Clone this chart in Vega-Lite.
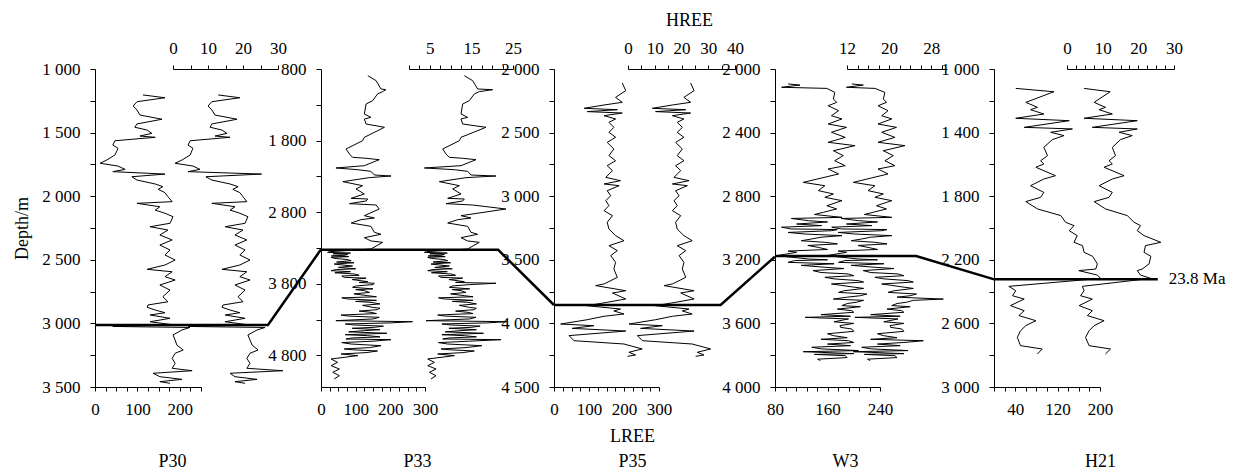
{
"$schema": "https://vega.github.io/schema/vega-lite/v6.json",
"width": 1233, "height": 318,
"autosize": {"type": "none"},
"padding": {"left": 0, "right": 0, "top": 69, "bottom": 86},
"background": "white",
"config": {
  "view": {"stroke": null},
  "axis": {"grid": false, "domainColor": "black", "domainWidth": 1, "tickColor": "black", "tickWidth": 1, "tickSize": 4,
    "labelColor": "black", "labelFont": "Liberation Serif", "labelFontSize": 17, "labelFlush": false, "labelOverlap": false, "labelBound": false,
    "titleColor": "black", "titleFont": "Liberation Serif", "titleFontSize": 18, "titleFontWeight": "normal"},
  "axisY": {"tickSize": 5, "labelPadding": 10, "titlePadding": 10},
  "axisTop": {"labelPadding": 8},
  "axisBottom": {"labelPadding": 10}
},
"datasets": {
"logs": [
{"well":"P30","depth":1204,"LREE":113,"HREE":12.9},{"well":"P30","depth":1226,"LREE":165,"HREE":19.1},{"well":"P30","depth":1257,"LREE":99,"HREE":11.1},{"well":"P30","depth":1291,"LREE":90,"HREE":10},{"well":"P30","depth":1322,"LREE":99,"HREE":11.1},{"well":"P30","depth":1362,"LREE":106,"HREE":12},{"well":"P30","depth":1395,"LREE":158,"HREE":18.3},{"well":"P30","depth":1432,"LREE":99,"HREE":11.1},{"well":"P30","depth":1458,"LREE":94,"HREE":10.6},{"well":"P30","depth":1480,"LREE":123,"HREE":14},{"well":"P30","depth":1506,"LREE":134,"HREE":15.4},{"well":"P30","depth":1527,"LREE":106,"HREE":12},{"well":"P30","depth":1537,"LREE":142,"HREE":16.3},{"well":"P30","depth":1564,"LREE":47,"HREE":4.9},{"well":"P30","depth":1598,"LREE":42,"HREE":4.3},{"well":"P30","depth":1623,"LREE":54,"HREE":5.7},{"well":"P30","depth":1642,"LREE":52,"HREE":5.4},{"well":"P30","depth":1676,"LREE":47,"HREE":4.9},{"well":"P30","depth":1715,"LREE":28,"HREE":2.6},{"well":"P30","depth":1741,"LREE":12,"HREE":0.6},{"well":"P30","depth":1763,"LREE":54,"HREE":5.7},{"well":"P30","depth":1789,"LREE":71,"HREE":7.7},{"well":"P30","depth":1807,"LREE":42,"HREE":4.3},{"well":"P30","depth":1826,"LREE":165,"HREE":25.3},{"well":"P30","depth":1847,"LREE":87,"HREE":9.4},{"well":"P30","depth":1873,"LREE":99,"HREE":11.1},{"well":"P30","depth":1904,"LREE":142,"HREE":16.3},{"well":"P30","depth":1925,"LREE":160,"HREE":18.6},{"well":"P30","depth":1946,"LREE":149,"HREE":17.1},{"well":"P30","depth":1972,"LREE":165,"HREE":19.1},{"well":"P30","depth":2004,"LREE":172,"HREE":20},{"well":"P30","depth":2043,"LREE":182,"HREE":21.1},{"well":"P30","depth":2056,"LREE":99,"HREE":11.1},{"well":"P30","depth":2083,"LREE":153,"HREE":17.7},{"well":"P30","depth":2109,"LREE":142,"HREE":16.3},{"well":"P30","depth":2134,"LREE":165,"HREE":19.1},{"well":"P30","depth":2161,"LREE":184,"HREE":21.4},{"well":"P30","depth":2213,"LREE":177,"HREE":20.6},{"well":"P30","depth":2240,"LREE":130,"HREE":14.9},{"well":"P30","depth":2266,"LREE":172,"HREE":20},{"well":"P30","depth":2305,"LREE":153,"HREE":17.7},{"well":"P30","depth":2344,"LREE":182,"HREE":21.1},{"well":"P30","depth":2384,"LREE":153,"HREE":17.7},{"well":"P30","depth":2423,"LREE":177,"HREE":20.6},{"well":"P30","depth":2462,"LREE":165,"HREE":19.1},{"well":"P30","depth":2502,"LREE":189,"HREE":22},{"well":"P30","depth":2541,"LREE":165,"HREE":19.1},{"well":"P30","depth":2575,"LREE":123,"HREE":14},{"well":"P30","depth":2594,"LREE":182,"HREE":21.1},{"well":"P30","depth":2633,"LREE":165,"HREE":19.1},{"well":"P30","depth":2659,"LREE":189,"HREE":22},{"well":"P30","depth":2698,"LREE":153,"HREE":17.7},{"well":"P30","depth":2738,"LREE":177,"HREE":20.6},{"well":"P30","depth":2790,"LREE":160,"HREE":18.6},{"well":"P30","depth":2830,"LREE":172,"HREE":20},{"well":"P30","depth":2855,"LREE":125,"HREE":14.3},{"well":"P30","depth":2873,"LREE":123,"HREE":14},{"well":"P30","depth":2895,"LREE":142,"HREE":16.3},{"well":"P30","depth":2916,"LREE":165,"HREE":19.1},{"well":"P30","depth":2934,"LREE":130,"HREE":14.9},{"well":"P30","depth":2960,"LREE":177,"HREE":20.6},{"well":"P30","depth":2987,"LREE":130,"HREE":14.9},{"well":"P30","depth":3013,"LREE":189,"HREE":22},{"well":"P30","depth":3024,"LREE":42,"HREE":4.3},{"well":"P30","depth":3032,"LREE":224,"HREE":26.3},{"well":"P30","depth":3052,"LREE":205,"HREE":24},{"well":"P30","depth":3091,"LREE":184,"HREE":21.4},{"well":"P30","depth":3131,"LREE":189,"HREE":22},{"well":"P30","depth":3170,"LREE":193,"HREE":22.6},{"well":"P30","depth":3209,"LREE":208,"HREE":24.3},{"well":"P30","depth":3235,"LREE":189,"HREE":22},{"well":"P30","depth":3275,"LREE":182,"HREE":21.1},{"well":"P30","depth":3314,"LREE":189,"HREE":22},{"well":"P30","depth":3353,"LREE":182,"HREE":21.1},{"well":"P30","depth":3372,"LREE":229,"HREE":31.4},{"well":"P30","depth":3392,"LREE":137,"HREE":16.3},{"well":"P30","depth":3419,"LREE":153,"HREE":17.7},{"well":"P30","depth":3440,"LREE":205,"HREE":24},{"well":"P30","depth":3458,"LREE":153,"HREE":17.7},{"well":"P30","depth":3471,"LREE":177,"HREE":20.6},
{"well":"P33","depth":893,"LREE":135,"HREE":13.3},{"well":"P33","depth":963,"LREE":159,"HREE":15.3},{"well":"P33","depth":1079,"LREE":173,"HREE":16.5},{"well":"P33","depth":1089,"LREE":187,"HREE":20.1},{"well":"P33","depth":1116,"LREE":178,"HREE":16.9},{"well":"P33","depth":1149,"LREE":163,"HREE":15.7},{"well":"P33","depth":1242,"LREE":149,"HREE":14.5},{"well":"P33","depth":1289,"LREE":130,"HREE":12.9},{"well":"P33","depth":1428,"LREE":125,"HREE":12.5},{"well":"P33","depth":1475,"LREE":144,"HREE":14.1},{"well":"P33","depth":1498,"LREE":125,"HREE":12.5},{"well":"P33","depth":1568,"LREE":130,"HREE":12.9},{"well":"P33","depth":1614,"LREE":183,"HREE":18.5},{"well":"P33","depth":1754,"LREE":125,"HREE":12.5},{"well":"P33","depth":1801,"LREE":120,"HREE":12.1},{"well":"P33","depth":1917,"LREE":72,"HREE":8.1},{"well":"P33","depth":1987,"LREE":82,"HREE":8.9},{"well":"P33","depth":2033,"LREE":91,"HREE":9.7},{"well":"P33","depth":2047,"LREE":130,"HREE":12.9},{"well":"P33","depth":2066,"LREE":168,"HREE":16.1},{"well":"P33","depth":2150,"LREE":125,"HREE":12.5},{"well":"P33","depth":2182,"LREE":43,"HREE":3.7},{"well":"P33","depth":2206,"LREE":106,"HREE":10.9},{"well":"P33","depth":2229,"LREE":144,"HREE":14.1},{"well":"P33","depth":2280,"LREE":154,"HREE":14.9},{"well":"P33","depth":2294,"LREE":202,"HREE":20.9},{"well":"P33","depth":2317,"LREE":139,"HREE":13.7},{"well":"P33","depth":2373,"LREE":63,"HREE":7.3},{"well":"P33","depth":2429,"LREE":120,"HREE":12.1},{"well":"P33","depth":2475,"LREE":101,"HREE":10.5},{"well":"P33","depth":2545,"LREE":125,"HREE":12.5},{"well":"P33","depth":2606,"LREE":87,"HREE":9.3},{"well":"P33","depth":2615,"LREE":135,"HREE":13.3},{"well":"P33","depth":2643,"LREE":130,"HREE":12.9},{"well":"P33","depth":2680,"LREE":82,"HREE":8.9},{"well":"P33","depth":2699,"LREE":159,"HREE":15.3},{"well":"P33","depth":2755,"LREE":168,"HREE":23.3},{"well":"P33","depth":2848,"LREE":125,"HREE":12.5},{"well":"P33","depth":2880,"LREE":154,"HREE":14.9},{"well":"P33","depth":2904,"LREE":115,"HREE":11.7},{"well":"P33","depth":2950,"LREE":87,"HREE":9.3},{"well":"P33","depth":2997,"LREE":144,"HREE":14.1},{"well":"P33","depth":3080,"LREE":154,"HREE":14.9},{"well":"P33","depth":3108,"LREE":173,"HREE":16.5},{"well":"P33","depth":3155,"LREE":125,"HREE":12.5},{"well":"P33","depth":3201,"LREE":144,"HREE":14.1},{"well":"P33","depth":3220,"LREE":178,"HREE":16.9},{"well":"P33","depth":3313,"LREE":144,"HREE":14.1},
{"well":"P33","depth":3340,"LREE":60,"HREE":7.1},{"well":"P33","depth":3350,"LREE":25,"HREE":4.2},{"well":"P33","depth":3360,"LREE":19,"HREE":3.7},{"well":"P33","depth":3370,"LREE":85,"HREE":9.2},{"well":"P33","depth":3380,"LREE":35,"HREE":5},{"well":"P33","depth":3388,"LREE":77,"HREE":8.5},{"well":"P33","depth":3400,"LREE":70,"HREE":7.9},{"well":"P33","depth":3410,"LREE":30,"HREE":4.6},{"well":"P33","depth":3420,"LREE":80,"HREE":8.7},{"well":"P33","depth":3430,"LREE":29,"HREE":4.5},{"well":"P33","depth":3445,"LREE":40,"HREE":5.4},{"well":"P33","depth":3460,"LREE":75,"HREE":8.3},{"well":"P33","depth":3476,"LREE":87,"HREE":9.3},{"well":"P33","depth":3495,"LREE":45,"HREE":5.8},{"well":"P33","depth":3505,"LREE":95,"HREE":10},{"well":"P33","depth":3523,"LREE":38,"HREE":5.3},{"well":"P33","depth":3535,"LREE":60,"HREE":7.1},{"well":"P33","depth":3551,"LREE":91,"HREE":9.7},{"well":"P33","depth":3570,"LREE":50,"HREE":6.2},{"well":"P33","depth":3590,"LREE":100,"HREE":10.4},{"well":"P33","depth":3600,"LREE":45,"HREE":5.8},{"well":"P33","depth":3616,"LREE":29,"HREE":4.5},{"well":"P33","depth":3630,"LREE":85,"HREE":9.2},{"well":"P33","depth":3645,"LREE":40,"HREE":5.4},{"well":"P33","depth":3662,"LREE":96,"HREE":10.1},{"well":"P33","depth":3680,"LREE":110,"HREE":11.2},{"well":"P33","depth":3690,"LREE":60,"HREE":7.1},{"well":"P33","depth":3709,"LREE":67,"HREE":7.7},{"well":"P33","depth":3720,"LREE":130,"HREE":12.9},{"well":"P33","depth":3740,"LREE":90,"HREE":9.6},{"well":"P33","depth":3769,"LREE":135,"HREE":13.3},{"well":"P33","depth":3780,"LREE":110,"HREE":11.2},{"well":"P33","depth":3792,"LREE":154,"HREE":20.9},{"well":"P33","depth":3810,"LREE":150,"HREE":14.6},{"well":"P33","depth":3830,"LREE":100,"HREE":10.4},{"well":"P33","depth":3848,"LREE":91,"HREE":9.7},{"well":"P33","depth":3870,"LREE":150,"HREE":14.6},{"well":"P33","depth":3880,"LREE":100,"HREE":10.4},{"well":"P33","depth":3895,"LREE":125,"HREE":12.5},{"well":"P33","depth":3920,"LREE":140,"HREE":13.7},{"well":"P33","depth":3940,"LREE":95,"HREE":10},{"well":"P33","depth":3965,"LREE":135,"HREE":13.3},{"well":"P33","depth":3980,"LREE":160,"HREE":15.4},{"well":"P33","depth":3995,"LREE":60,"HREE":7.1},{"well":"P33","depth":4011,"LREE":77,"HREE":8.5},{"well":"P33","depth":4030,"LREE":160,"HREE":15.4},{"well":"P33","depth":4045,"LREE":100,"HREE":10.4},{"well":"P33","depth":4058,"LREE":144,"HREE":14.1},{"well":"P33","depth":4080,"LREE":170,"HREE":16.2},{"well":"P33","depth":4100,"LREE":120,"HREE":12.1},{"well":"P33","depth":4128,"LREE":149,"HREE":14.5},{"well":"P33","depth":4140,"LREE":170,"HREE":16.2},{"well":"P33","depth":4160,"LREE":163,"HREE":15.7},{"well":"P33","depth":4180,"LREE":110,"HREE":11.2},{"well":"P33","depth":4197,"LREE":144,"HREE":14.1},{"well":"P33","depth":4215,"LREE":160,"HREE":15.4},{"well":"P33","depth":4235,"LREE":58,"HREE":6.9},{"well":"P33","depth":4250,"LREE":80,"HREE":8.7},{"well":"P33","depth":4267,"LREE":168,"HREE":16.1},{"well":"P33","depth":4290,"LREE":150,"HREE":14.6},{"well":"P33","depth":4314,"LREE":43,"HREE":4.1},{"well":"P33","depth":4328,"LREE":264,"HREE":23.5},{"well":"P33","depth":4345,"LREE":200,"HREE":18.7},{"well":"P33","depth":4360,"LREE":70,"HREE":7.9},{"well":"P33","depth":4374,"LREE":96,"HREE":10.1},{"well":"P33","depth":4390,"LREE":180,"HREE":17.1},{"well":"P33","depth":4407,"LREE":154,"HREE":14.9},{"well":"P33","depth":4420,"LREE":90,"HREE":9.6},{"well":"P33","depth":4440,"LREE":170,"HREE":16.2},{"well":"P33","depth":4453,"LREE":125,"HREE":12.5},{"well":"P33","depth":4470,"LREE":80,"HREE":8.7},{"well":"P33","depth":4490,"LREE":190,"HREE":17.9},{"well":"P33","depth":4510,"LREE":70,"HREE":7.9},{"well":"P33","depth":4523,"LREE":135,"HREE":13.3},{"well":"P33","depth":4540,"LREE":170,"HREE":16.2},{"well":"P33","depth":4555,"LREE":90,"HREE":9.6},{"well":"P33","depth":4570,"LREE":72,"HREE":8.1},{"well":"P33","depth":4579,"LREE":202,"HREE":22.1},{"well":"P33","depth":4600,"LREE":150,"HREE":14.6},{"well":"P33","depth":4620,"LREE":60,"HREE":7.1},{"well":"P33","depth":4640,"LREE":87,"HREE":9.3},{"well":"P33","depth":4663,"LREE":173,"HREE":17.5},{"well":"P33","depth":4690,"LREE":140,"HREE":13.7},{"well":"P33","depth":4709,"LREE":67,"HREE":7.7},{"well":"P33","depth":4720,"LREE":90,"HREE":9.6},{"well":"P33","depth":4737,"LREE":163,"HREE":15.7},{"well":"P33","depth":4760,"LREE":130,"HREE":12.9},{"well":"P33","depth":4779,"LREE":58,"HREE":6.9},{"well":"P33","depth":4802,"LREE":106,"HREE":10.9},{"well":"P33","depth":4849,"LREE":29,"HREE":4.5},{"well":"P33","depth":4896,"LREE":48,"HREE":6.1},{"well":"P33","depth":4942,"LREE":29,"HREE":4.5},{"well":"P33","depth":4989,"LREE":53,"HREE":6.5},{"well":"P33","depth":5035,"LREE":34,"HREE":4.9},{"well":"P33","depth":5082,"LREE":53,"HREE":6.5},{"well":"P33","depth":5128,"LREE":38,"HREE":5.3},
{"well":"P35","depth":2110,"LREE":195,"HREE":23.4},{"well":"P35","depth":2170,"LREE":205,"HREE":24.7},{"well":"P35","depth":2223,"LREE":176,"HREE":20.9},{"well":"P35","depth":2262,"LREE":195,"HREE":23.4},{"well":"P35","depth":2283,"LREE":143,"HREE":16.6},{"well":"P35","depth":2309,"LREE":86,"HREE":9.1},{"well":"P35","depth":2320,"LREE":181,"HREE":21.6},{"well":"P35","depth":2335,"LREE":95,"HREE":10.3},{"well":"P35","depth":2346,"LREE":195,"HREE":23.4},{"well":"P35","depth":2367,"LREE":143,"HREE":16.6},{"well":"P35","depth":2393,"LREE":176,"HREE":20.9},{"well":"P35","depth":2419,"LREE":157,"HREE":18.4},{"well":"P35","depth":2459,"LREE":171,"HREE":20.3},{"well":"P35","depth":2498,"LREE":157,"HREE":18.4},{"well":"P35","depth":2537,"LREE":176,"HREE":20.9},{"well":"P35","depth":2577,"LREE":152,"HREE":17.8},{"well":"P35","depth":2629,"LREE":171,"HREE":20.3},{"well":"P35","depth":2681,"LREE":157,"HREE":18.4},{"well":"P35","depth":2721,"LREE":176,"HREE":20.9},{"well":"P35","depth":2760,"LREE":152,"HREE":17.8},{"well":"P35","depth":2799,"LREE":167,"HREE":19.7},{"well":"P35","depth":2852,"LREE":148,"HREE":17.2},{"well":"P35","depth":2878,"LREE":190,"HREE":22.8},{"well":"P35","depth":2904,"LREE":143,"HREE":16.6},{"well":"P35","depth":2917,"LREE":186,"HREE":22.2},{"well":"P35","depth":2957,"LREE":152,"HREE":17.8},{"well":"P35","depth":2996,"LREE":162,"HREE":19.1},{"well":"P35","depth":3035,"LREE":148,"HREE":17.2},{"well":"P35","depth":3074,"LREE":157,"HREE":18.4},{"well":"P35","depth":3114,"LREE":143,"HREE":16.6},{"well":"P35","depth":3153,"LREE":167,"HREE":19.7},{"well":"P35","depth":3205,"LREE":152,"HREE":17.8},{"well":"P35","depth":3258,"LREE":157,"HREE":18.4},{"well":"P35","depth":3310,"LREE":176,"HREE":20.9},{"well":"P35","depth":3350,"LREE":200,"HREE":24.0},{"well":"P35","depth":3389,"LREE":157,"HREE":18.4},{"well":"P35","depth":3428,"LREE":181,"HREE":21.6},{"well":"P35","depth":3467,"LREE":162,"HREE":19.1},{"well":"P35","depth":3520,"LREE":176,"HREE":20.9},{"well":"P35","depth":3572,"LREE":171,"HREE":20.3},{"well":"P35","depth":3638,"LREE":181,"HREE":21.6},{"well":"P35","depth":3690,"LREE":143,"HREE":16.6},{"well":"P35","depth":3703,"LREE":119,"HREE":13.5},{"well":"P35","depth":3743,"LREE":205,"HREE":24.7},{"well":"P35","depth":3761,"LREE":167,"HREE":19.7},{"well":"P35","depth":3808,"LREE":205,"HREE":24.7},{"well":"P35","depth":3834,"LREE":152,"HREE":17.8},{"well":"P35","depth":3861,"LREE":95,"HREE":10.3},{"well":"P35","depth":3887,"LREE":190,"HREE":22.8},{"well":"P35","depth":3902,"LREE":171,"HREE":20.3},{"well":"P35","depth":3926,"LREE":200,"HREE":24.0},{"well":"P35","depth":3944,"LREE":143,"HREE":16.6},{"well":"P35","depth":3971,"LREE":95,"HREE":10.3},{"well":"P35","depth":4005,"LREE":19,"HREE":0.4},{"well":"P35","depth":4018,"LREE":114,"HREE":12.8},{"well":"P35","depth":4039,"LREE":52,"HREE":4.7},{"well":"P35","depth":4060,"LREE":205,"HREE":24.7},{"well":"P35","depth":4096,"LREE":43,"HREE":3.5},{"well":"P35","depth":4136,"LREE":57,"HREE":5.4},{"well":"P35","depth":4162,"LREE":200,"HREE":24.0},{"well":"P35","depth":4201,"LREE":252,"HREE":30.9},{"well":"P35","depth":4227,"LREE":214,"HREE":25.9},{"well":"P35","depth":4248,"LREE":233,"HREE":28.4},{"well":"P35","depth":4259,"LREE":210,"HREE":25.3},
{"well":"W3","depth":2094,"LREE":100,"HREE":12.9},{"well":"W3","depth":2101,"LREE":118,"HREE":15.1},{"well":"W3","depth":2115,"LREE":90,"HREE":11.9},{"well":"W3","depth":2122,"LREE":159,"HREE":17.3},{"well":"W3","depth":2147,"LREE":171,"HREE":19.2},{"well":"W3","depth":2189,"LREE":169,"HREE":18.9},{"well":"W3","depth":2210,"LREE":174,"HREE":19.5},{"well":"W3","depth":2231,"LREE":161,"HREE":17.9},{"well":"W3","depth":2262,"LREE":177,"HREE":19.8},{"well":"W3","depth":2294,"LREE":166,"HREE":18.6},{"well":"W3","depth":2314,"LREE":182,"HREE":20.5},{"well":"W3","depth":2346,"LREE":161,"HREE":17.9},{"well":"W3","depth":2367,"LREE":189,"HREE":21.4},{"well":"W3","depth":2398,"LREE":166,"HREE":18.6},{"well":"W3","depth":2430,"LREE":187,"HREE":21.1},{"well":"W3","depth":2461,"LREE":161,"HREE":17.9},{"well":"W3","depth":2482,"LREE":202,"HREE":23.0},{"well":"W3","depth":2514,"LREE":169,"HREE":18.9},{"well":"W3","depth":2545,"LREE":184,"HREE":20.8},{"well":"W3","depth":2577,"LREE":171,"HREE":19.2},{"well":"W3","depth":2608,"LREE":187,"HREE":21.1},{"well":"W3","depth":2629,"LREE":161,"HREE":17.9},{"well":"W3","depth":2660,"LREE":177,"HREE":19.8},{"well":"W3","depth":2713,"LREE":123,"HREE":13.2},{"well":"W3","depth":2734,"LREE":156,"HREE":17.3},{"well":"W3","depth":2765,"LREE":146,"HREE":16.0},{"well":"W3","depth":2786,"LREE":169,"HREE":18.9},{"well":"W3","depth":2807,"LREE":156,"HREE":17.3},{"well":"W3","depth":2828,"LREE":182,"HREE":20.5},{"well":"W3","depth":2860,"LREE":159,"HREE":17.6},{"well":"W3","depth":2880,"LREE":174,"HREE":19.5},{"well":"W3","depth":2901,"LREE":154,"HREE":17.0},{"well":"W3","depth":2915,"LREE":140,"HREE":15.3},{"well":"W3","depth":2933,"LREE":182,"HREE":20.5},{"well":"W3","depth":2940,"LREE":105,"HREE":10.9},{"well":"W3","depth":2954,"LREE":131,"HREE":14.2},{"well":"W3","depth":2962,"LREE":160,"HREE":17.8},{"well":"W3","depth":2975,"LREE":113,"HREE":11.9},{"well":"W3","depth":2985,"LREE":151,"HREE":16.7},{"well":"W3","depth":2995,"LREE":90,"HREE":9.1},{"well":"W3","depth":3006,"LREE":105,"HREE":11.0},{"well":"W3","depth":3010,"LREE":175,"HREE":19.6},{"well":"W3","depth":3017,"LREE":166,"HREE":18.6},{"well":"W3","depth":3028,"LREE":100,"HREE":10.3},{"well":"W3","depth":3038,"LREE":126,"HREE":13.5},{"well":"W3","depth":3048,"LREE":182,"HREE":20.5},{"well":"W3","depth":3058,"LREE":150,"HREE":16.5},{"well":"W3","depth":3069,"LREE":136,"HREE":14.8},{"well":"W3","depth":3080,"LREE":120,"HREE":12.8},{"well":"W3","depth":3090,"LREE":156,"HREE":17.3},{"well":"W3","depth":3100,"LREE":175,"HREE":19.6},{"well":"W3","depth":3110,"LREE":130,"HREE":14.1},{"well":"W3","depth":3122,"LREE":146,"HREE":16.0},{"well":"W3","depth":3135,"LREE":160,"HREE":17.8},{"well":"W3","depth":3145,"LREE":100,"HREE":10.3},{"well":"W3","depth":3153,"LREE":113,"HREE":11.9},{"well":"W3","depth":3174,"LREE":83,"HREE":8.1},{"well":"W3","depth":3195,"LREE":131,"HREE":14.2},{"well":"W3","depth":3200,"LREE":160,"HREE":17.8},{"well":"W3","depth":3205,"LREE":110,"HREE":11.6},{"well":"W3","depth":3216,"LREE":100,"HREE":10.4},{"well":"W3","depth":3225,"LREE":170,"HREE":19},{"well":"W3","depth":3235,"LREE":120,"HREE":12.8},{"well":"W3","depth":3247,"LREE":156,"HREE":17.3},{"well":"W3","depth":3255,"LREE":185,"HREE":20.9},{"well":"W3","depth":3268,"LREE":138,"HREE":15.1},{"well":"W3","depth":3280,"LREE":150,"HREE":16.5},{"well":"W3","depth":3289,"LREE":192,"HREE":21.7},{"well":"W3","depth":3300,"LREE":200,"HREE":22.8},{"well":"W3","depth":3310,"LREE":156,"HREE":17.3},{"well":"W3","depth":3320,"LREE":170,"HREE":19},{"well":"W3","depth":3331,"LREE":207,"HREE":23.6},{"well":"W3","depth":3340,"LREE":215,"HREE":24.6},{"well":"W3","depth":3352,"LREE":166,"HREE":18.6},{"well":"W3","depth":3360,"LREE":180,"HREE":20.3},{"well":"W3","depth":3373,"LREE":202,"HREE":23.0},{"well":"W3","depth":3380,"LREE":215,"HREE":24.6},{"well":"W3","depth":3395,"LREE":185,"HREE":20.9},{"well":"W3","depth":3405,"LREE":177,"HREE":19.8},{"well":"W3","depth":3415,"LREE":220,"HREE":25.2},{"well":"W3","depth":3426,"LREE":210,"HREE":24.0},{"well":"W3","depth":3435,"LREE":190,"HREE":21.5},{"well":"W3","depth":3447,"LREE":169,"HREE":30.3},{"well":"W3","depth":3455,"LREE":215,"HREE":24.6},{"well":"W3","depth":3467,"LREE":204,"HREE":23.3},{"well":"W3","depth":3475,"LREE":190,"HREE":21.5},{"well":"W3","depth":3488,"LREE":182,"HREE":20.5},{"well":"W3","depth":3495,"LREE":210,"HREE":24},{"well":"W3","depth":3510,"LREE":175,"HREE":19.6},{"well":"W3","depth":3520,"LREE":197,"HREE":22.4},{"well":"W3","depth":3530,"LREE":200,"HREE":22.8},{"well":"W3","depth":3545,"LREE":150,"HREE":16.5},{"well":"W3","depth":3555,"LREE":195,"HREE":22.1},{"well":"W3","depth":3562,"LREE":126,"HREE":13.5},{"well":"W3","depth":3572,"LREE":192,"HREE":21.7},{"well":"W3","depth":3590,"LREE":170,"HREE":19},{"well":"W3","depth":3600,"LREE":200,"HREE":22.8},{"well":"W3","depth":3614,"LREE":179,"HREE":20.2},{"well":"W3","depth":3625,"LREE":180,"HREE":20.3},{"well":"W3","depth":3635,"LREE":197,"HREE":22.4},{"well":"W3","depth":3650,"LREE":200,"HREE":22.8},{"well":"W3","depth":3665,"LREE":160,"HREE":17.8},{"well":"W3","depth":3677,"LREE":169,"HREE":18.9},{"well":"W3","depth":3690,"LREE":190,"HREE":21.5},{"well":"W3","depth":3700,"LREE":150,"HREE":16.5},{"well":"W3","depth":3709,"LREE":192,"HREE":26.5},{"well":"W3","depth":3720,"LREE":200,"HREE":22.8},{"well":"W3","depth":3730,"LREE":160,"HREE":17.8},{"well":"W3","depth":3740,"LREE":195,"HREE":22.1},{"well":"W3","depth":3750,"LREE":136,"HREE":14.8},{"well":"W3","depth":3760,"LREE":150,"HREE":16.5},{"well":"W3","depth":3771,"LREE":207,"HREE":23.6},{"well":"W3","depth":3778,"LREE":123,"HREE":13.2},{"well":"W3","depth":3790,"LREE":200,"HREE":22.8},{"well":"W3","depth":3795,"LREE":140,"HREE":15.3},{"well":"W3","depth":3803,"LREE":187,"HREE":21.1},{"well":"W3","depth":3815,"LREE":190,"HREE":21.5},{"well":"W3","depth":3825,"LREE":145,"HREE":15.9},{"well":"W3","depth":3834,"LREE":149,"HREE":16.4},
{"well":"H21","depth":1122,"LREE":41,"HREE":4.8},{"well":"H21","depth":1143,"LREE":113,"HREE":12.1},{"well":"H21","depth":1210,"LREE":60,"HREE":7.6},{"well":"H21","depth":1241,"LREE":82,"HREE":10.8},{"well":"H21","depth":1256,"LREE":69,"HREE":9.0},{"well":"H21","depth":1283,"LREE":94,"HREE":12.7},{"well":"H21","depth":1310,"LREE":41,"HREE":4.8},{"well":"H21","depth":1325,"LREE":142,"HREE":19.7},{"well":"H21","depth":1367,"LREE":57,"HREE":7.1},{"well":"H21","depth":1377,"LREE":148,"HREE":19.7},{"well":"H21","depth":1398,"LREE":107,"HREE":14.6},{"well":"H21","depth":1419,"LREE":132,"HREE":18.3},{"well":"H21","depth":1444,"LREE":110,"HREE":15.0},{"well":"H21","depth":1493,"LREE":94,"HREE":12.7},{"well":"H21","depth":1545,"LREE":101,"HREE":13.6},{"well":"H21","depth":1577,"LREE":88,"HREE":11.8},{"well":"H21","depth":1597,"LREE":94,"HREE":12.7},{"well":"H21","depth":1618,"LREE":79,"HREE":10.4},{"well":"H21","depth":1671,"LREE":116,"HREE":16.0},{"well":"H21","depth":1692,"LREE":94,"HREE":12.7},{"well":"H21","depth":1734,"LREE":69,"HREE":9.0},{"well":"H21","depth":1776,"LREE":94,"HREE":12.7},{"well":"H21","depth":1807,"LREE":88,"HREE":11.8},{"well":"H21","depth":1834,"LREE":60,"HREE":7.6},{"well":"H21","depth":1880,"LREE":82,"HREE":10.8},{"well":"H21","depth":1922,"LREE":126,"HREE":16.9},{"well":"H21","depth":1964,"LREE":135,"HREE":18.8},{"well":"H21","depth":1985,"LREE":151,"HREE":20.6},{"well":"H21","depth":2017,"LREE":142,"HREE":19.7},{"well":"H21","depth":2048,"LREE":157,"HREE":21.6},{"well":"H21","depth":2090,"LREE":151,"HREE":26.3},{"well":"H21","depth":2111,"LREE":167,"HREE":22.0},{"well":"H21","depth":2153,"LREE":170,"HREE":21.6},{"well":"H21","depth":2178,"LREE":186,"HREE":23.5},{"well":"H21","depth":2226,"LREE":195,"HREE":23.0},{"well":"H21","depth":2258,"LREE":192,"HREE":21.1},{"well":"H21","depth":2268,"LREE":160,"HREE":19.7},{"well":"H21","depth":2296,"LREE":195,"HREE":20.6},{"well":"H21","depth":2317,"LREE":201,"HREE":23.5},{"well":"H21","depth":2367,"LREE":28,"HREE":4.3},{"well":"H21","depth":2394,"LREE":41,"HREE":4.8},{"well":"H21","depth":2426,"LREE":35,"HREE":3.8},{"well":"H21","depth":2447,"LREE":57,"HREE":7.1},{"well":"H21","depth":2488,"LREE":31,"HREE":3.4},{"well":"H21","depth":2520,"LREE":57,"HREE":7.1},{"well":"H21","depth":2551,"LREE":47,"HREE":5.7},{"well":"H21","depth":2583,"LREE":79,"HREE":10.4},{"well":"H21","depth":2614,"LREE":60,"HREE":7.6},{"well":"H21","depth":2646,"LREE":50,"HREE":6.2},{"well":"H21","depth":2688,"LREE":44,"HREE":5.2},{"well":"H21","depth":2740,"LREE":50,"HREE":6.2},{"well":"H21","depth":2761,"LREE":91,"HREE":12.2},{"well":"H21","depth":2792,"LREE":82,"HREE":10.8}
],
"boundary": [
{"well":"P30","seq":1,"LREE":0,"depth":3013},{"well":"P30","seq":2,"LREE":408,"depth":3013},{"well":"P30","seq":3,"LREE":533,"depth":2418},
{"well":"P33","seq":1,"LREE":0,"depth":3325},{"well":"P33","seq":2,"LREE":511,"depth":3325},{"well":"P33","seq":3,"LREE":672,"depth":4095},
{"well":"P35","seq":1,"LREE":0,"depth":3855},{"well":"P35","seq":2,"LREE":476,"depth":3855},{"well":"P35","seq":3,"LREE":631,"depth":3476},
{"well":"W3","seq":1,"LREE":80,"depth":3176},{"well":"W3","seq":2,"LREE":295,"depth":3176},{"well":"W3","seq":3,"LREE":414,"depth":3323},
{"well":"H21","seq":1,"LREE":0,"depth":2323},{"well":"H21","seq":2,"LREE":309,"depth":2323}
],
"ann": [{"well":"H21","LREE":309,"depth":2323,"label":"23.8 Ma"}]
},
"layer": [
{
 "encoding": {
  "x": {"field":"LREE","type":"quantitative","scale":{"domain":[0,250],"range":[95,201],"nice":false,"zero":false},
        "axis":{"orient":"bottom","values":[0,25,50,75,100,125,150,175,200,225,250],"labelExpr":"datum.value % 100 === 0 ? datum.label : ''","title":"P30","titleX":172,"titlePadding":35}},
  "y": {"field":"depth","type":"quantitative","scale":{"domain":[1000,3500],"range":[0,318],"nice":false,"zero":false},
        "axis":{"orient":"left","offset":-95,"values":[1000,1250,1500,1750,2000,2250,2500,2750,3000,3250,3500],"labelExpr":"datum.value % 500 === 0 ? replace(format(datum.value, ','), ',', ' ') : ''","title":"Depth/m"}}
 },
 "layer": [
  {"data":{"name":"logs"},"transform":[{"filter":"datum.well === 'P30'"}],"mark":{"type":"line","color":"black","strokeWidth":1},"encoding":{"order":{"field":"depth","type":"quantitative"}}},
  {"data":{"name":"boundary"},"transform":[{"filter":"datum.well === 'P30'"}],"mark":{"type":"line","color":"black","strokeWidth":2.5},"encoding":{"order":{"field":"seq","type":"quantitative"}}}
 ]
},
{
 "data":{"name":"logs"},"transform":[{"filter":"datum.well === 'P30'"}],"mark":{"type":"line","color":"black","strokeWidth":1},
 "encoding": {
  "x": {"field":"HREE","type":"quantitative","scale":{"domain":[0,30],"range":[173,278],"nice":false,"zero":false},
        "axis":{"orient":"top","values":[0,5,10,15,20,25,30],"labelExpr":"datum.value % 10 === 0 ? datum.label : ''","title":null}},
  "y": {"field":"depth","type":"quantitative","scale":{"domain":[1000,3500],"range":[0,318],"nice":false,"zero":false},"axis":null},
  "order":{"field":"depth","type":"quantitative"}
 }
},
{
 "encoding": {
  "x": {"field":"LREE","type":"quantitative","scale":{"domain":[0,300],"range":[321,425],"nice":false,"zero":false},
        "axis":{"orient":"bottom","values":[0,25,50,75,100,125,150,175,200,225,250,275,300],"labelExpr":"datum.value % 100 === 0 ? datum.label : ''","title":"P33","titleX":417,"titlePadding":35}},
  "y": {"field":"depth","type":"quantitative","scale":{"domain":[800,5240],"range":[0,318],"nice":false,"zero":false},
        "axis":{"orient":"left","offset":-321,"values":[800,1300,1800,2300,2800,3300,3800,4300,4800],"labelExpr":"(datum.value - 800) % 1000 === 0 ? replace(format(datum.value, ','), ',', ' ') : ''","title":null}}
 },
 "layer": [
  {"data":{"name":"logs"},"transform":[{"filter":"datum.well === 'P33'"}],"mark":{"type":"line","color":"black","strokeWidth":1},"encoding":{"order":{"field":"depth","type":"quantitative"}}},
  {"data":{"name":"boundary"},"transform":[{"filter":"datum.well === 'P33'"}],"mark":{"type":"line","color":"black","strokeWidth":2.5},"encoding":{"order":{"field":"seq","type":"quantitative"}}}
 ]
},
{
 "data":{"name":"logs"},"transform":[{"filter":"datum.well === 'P33'"}],"mark":{"type":"line","color":"black","strokeWidth":1},
 "encoding": {
  "x": {"field":"HREE","type":"quantitative","scale":{"domain":[0,25],"range":[409,513],"nice":false,"zero":false},
        "axis":{"orient":"top","values":[0,2.5,5,7.5,10,12.5,15,17.5,20,22.5,25],"labelExpr":"datum.value % 10 === 5 ? datum.label : ''","title":null}},
  "y": {"field":"depth","type":"quantitative","scale":{"domain":[800,5240],"range":[0,318],"nice":false,"zero":false},"axis":null},
  "order":{"field":"depth","type":"quantitative"}
 }
},
{
 "encoding": {
  "x": {"field":"LREE","type":"quantitative","scale":{"domain":[0,300],"range":[554,659],"nice":false,"zero":false},
        "axis":{"orient":"bottom","values":[0,25,50,75,100,125,150,175,200,225,250,275,300],"labelExpr":"datum.value % 100 === 0 ? datum.label : ''","title":["LREE","P35"],"titleX":632,"titlePadding":10,"titleLineHeight":25}},
  "y": {"field":"depth","type":"quantitative","scale":{"domain":[2000,4500],"range":[0,318],"nice":false,"zero":false},
        "axis":{"orient":"left","offset":-554,"values":[2000,2250,2500,2750,3000,3250,3500,3750,4000,4250,4500],"labelExpr":"datum.value % 500 === 0 ? replace(format(datum.value, ','), ',', ' ') : ''","title":null}}
 },
 "layer": [
  {"data":{"name":"logs"},"transform":[{"filter":"datum.well === 'P35'"}],"mark":{"type":"line","color":"black","strokeWidth":1},"encoding":{"order":{"field":"depth","type":"quantitative"}}},
  {"data":{"name":"boundary"},"transform":[{"filter":"datum.well === 'P35'"}],"mark":{"type":"line","color":"black","strokeWidth":2.5},"encoding":{"order":{"field":"seq","type":"quantitative"}}}
 ]
},
{
 "data":{"name":"logs"},"transform":[{"filter":"datum.well === 'P35'"}],"mark":{"type":"line","color":"black","strokeWidth":1},
 "encoding": {
  "x": {"field":"HREE","type":"quantitative","scale":{"domain":[0,40],"range":[628,735],"nice":false,"zero":false},
        "axis":{"orient":"top","values":[0,5,10,15,20,25,30,35,40],"labelExpr":"datum.value % 10 === 0 ? datum.label : ''","title":"HREE","titleX":689,"titlePadding":10}},
  "y": {"field":"depth","type":"quantitative","scale":{"domain":[2000,4500],"range":[0,318],"nice":false,"zero":false},"axis":null},
  "order":{"field":"depth","type":"quantitative"}
 }
},
{
 "encoding": {
  "x": {"field":"LREE","type":"quantitative","scale":{"domain":[80,240],"range":[775,880],"nice":false,"zero":false},
        "axis":{"orient":"bottom","values":[80,96,112,128,144,160,176,192,208,224,240],"labelExpr":"(datum.value - 80) % 80 === 0 ? datum.label : ''","title":"W3","titleX":845,"titlePadding":35}},
  "y": {"field":"depth","type":"quantitative","scale":{"domain":[2000,4000],"range":[0,318],"nice":false,"zero":false},
        "axis":{"orient":"left","offset":-775,"values":[2000,2200,2400,2600,2800,3000,3200,3400,3600,3800,4000],"labelExpr":"datum.value % 400 === 0 ? replace(format(datum.value, ','), ',', ' ') : ''","title":null}}
 },
 "layer": [
  {"data":{"name":"logs"},"transform":[{"filter":"datum.well === 'W3'"}],"mark":{"type":"line","color":"black","strokeWidth":1},"encoding":{"order":{"field":"depth","type":"quantitative"}}},
  {"data":{"name":"boundary"},"transform":[{"filter":"datum.well === 'W3'"}],"mark":{"type":"line","color":"black","strokeWidth":2.5},"encoding":{"order":{"field":"seq","type":"quantitative"}}}
 ]
},
{
 "data":{"name":"logs"},"transform":[{"filter":"datum.well === 'W3'"}],"mark":{"type":"line","color":"black","strokeWidth":1},
 "encoding": {
  "x": {"field":"HREE","type":"quantitative","scale":{"domain":[12,31],"range":[847,947],"nice":false,"zero":false},
        "axis":{"orient":"top","values":[12,14,16,18,20,22,24,26,28,30],"labelExpr":"(datum.value - 12) % 8 === 0 ? datum.label : ''","title":null}},
  "y": {"field":"depth","type":"quantitative","scale":{"domain":[2000,4000],"range":[0,318],"nice":false,"zero":false},"axis":null},
  "order":{"field":"depth","type":"quantitative"}
 }
},
{
 "encoding": {
  "x": {"field":"LREE","type":"quantitative","scale":{"domain":[0,200],"range":[994,1100],"nice":false,"zero":false},
        "axis":{"orient":"bottom","values":[0,20,40,60,80,100,120,140,160,180,200],"labelExpr":"datum.value >= 40 && (datum.value - 40) % 80 === 0 ? datum.label : ''","title":"H21","titleX":1100,"titlePadding":35}},
  "y": {"field":"depth","type":"quantitative","scale":{"domain":[1000,3000],"range":[0,318],"nice":false,"zero":false},
        "axis":{"orient":"left","offset":-994,"values":[1000,1200,1400,1600,1800,2000,2200,2400,2600,2800,3000],"labelExpr":"(datum.value - 1000) % 400 === 0 ? replace(format(datum.value, ','), ',', ' ') : ''","title":null}}
 },
 "layer": [
  {"data":{"name":"logs"},"transform":[{"filter":"datum.well === 'H21'"}],"mark":{"type":"line","color":"black","strokeWidth":1},"encoding":{"order":{"field":"depth","type":"quantitative"}}},
  {"data":{"name":"boundary"},"transform":[{"filter":"datum.well === 'H21'"}],"mark":{"type":"line","color":"black","strokeWidth":2.5},"encoding":{"order":{"field":"seq","type":"quantitative"}}},
  {"data":{"name":"ann"},"mark":{"type":"text","align":"left","baseline":"middle","dx":11,"font":"Liberation Serif","fontSize":17,"color":"black"},"encoding":{"text":{"field":"label"}}}
 ]
},
{
 "data":{"name":"logs"},"transform":[{"filter":"datum.well === 'H21'"}],"mark":{"type":"line","color":"black","strokeWidth":1},
 "encoding": {
  "x": {"field":"HREE","type":"quantitative","scale":{"domain":[0,30],"range":[1067,1174],"nice":false,"zero":false},
        "axis":{"orient":"top","values":[0,2.5,5,7.5,10,12.5,15,17.5,20,22.5,25,27.5,30],"labelExpr":"datum.value % 10 === 0 ? datum.label : ''","title":null}},
  "y": {"field":"depth","type":"quantitative","scale":{"domain":[1000,3000],"range":[0,318],"nice":false,"zero":false},"axis":null},
  "order":{"field":"depth","type":"quantitative"}
 }
}
],
"resolve": {"scale": {"x": "independent", "y": "independent"}, "axis": {"x": "independent", "y": "independent"}}
}
